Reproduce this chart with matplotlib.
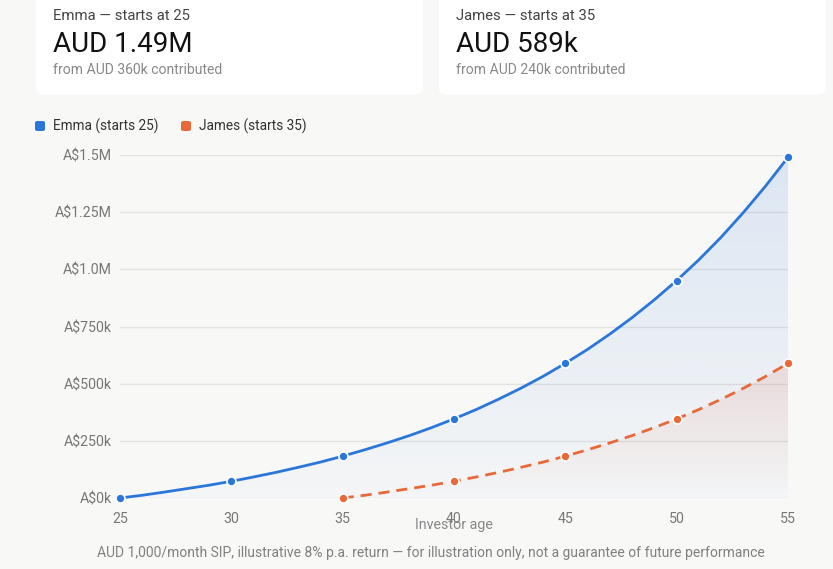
import matplotlib.pyplot as plt
import numpy as np
from matplotlib.patches import FancyBboxPatch

plt.rcParams['font.family'] = ['Roboto', 'DejaVu Sans']

# portfolio value (AUD thousands) at each age
emma_ages = list(range(25, 56))
emma_vals = [0, 12, 26, 41, 56, 73, 92, 112, 134, 157, 183, 211, 241, 273, 308,
             346, 387, 432, 480, 532, 589, 650, 717, 789, 867, 951, 1042, 1141,
             1249, 1365, 1490]
james_ages = list(range(35, 56))
james_vals = [0, 12, 26, 41, 56, 73, 92, 112, 134, 157, 183, 211, 241, 273, 308,
              346, 387, 432, 480, 532, 589]

y_ticks = [0, 250, 500, 750, 1000, 1250, 1500]
y_labels = ['A$0k', 'A$250k', 'A$500k', 'A$750k', 'A$1.0M', 'A$1.25M', 'A$1.5M']
x_ticks = [25, 30, 35, 40, 45, 50, 55]

cards = [
    ('Emma \u2014 starts at 25', 'AUD 1.49M', 'from AUD 360k contributed'),
    ('James \u2014 starts at 35', 'AUD 589k', 'from AUD 240k contributed'),
]

BLUE = '#2b77d9'
ORANGE = '#e9683a'
BG = '#f8f8f7'

W, H = 833, 569
fig = plt.figure(figsize=(W / 100, H / 100), dpi=100)
fig.patch.set_facecolor(BG)

# summary cards
for i, (head, big, sub) in enumerate(cards):
    x0 = [36, 439][i]
    card = FancyBboxPatch((x0 / W, 1 - 95 / H), 387 / W, 120 / H,
                          boxstyle='round,pad=0,rounding_size=0.012',
                          transform=fig.transFigure, facecolor='white',
                          edgecolor='none', zorder=0)
    fig.patches.append(card)
    tx = x0 + 17
    fig.text(tx / W, 1 - 16 / H, head, fontsize=10.7, color='#444444', va='center')
    fig.text(tx / W, 1 - 44 / H, big, fontsize=20, color='#111111', va='center')
    fig.text(tx / W, 1 - 70 / H, sub, fontsize=10.1, color='#888888', va='center')

# legend
for x0, label, col in [(35, 'Emma (starts 25)', BLUE), (181, 'James (starts 35)', ORANGE)]:
    sq = FancyBboxPatch((x0 / W, 1 - 131 / H), 10 / W, 10 / H,
                        boxstyle='round,pad=0,rounding_size=0.003',
                        transform=fig.transFigure, facecolor=col, edgecolor='none')
    fig.patches.append(sq)
    fig.text((x0 + 18) / W, 1 - 126 / H, label, fontsize=9.8, color='#333333',
             va='center')

ax = fig.add_axes([120 / W, 1 - 498 / H, 668 / W, 343 / H])
ax.set_facecolor(BG)


def gradient_fill(xs, ys, color, a_top, a_bot, top):
    poly = ax.fill_between(xs, ys, 0, facecolor='none', edgecolor='none')
    rgb = plt.matplotlib.colors.to_rgb(color)
    grad = np.zeros((256, 1, 4))
    grad[:, :, :3] = rgb
    grad[:, 0, 3] = np.linspace(a_top, a_bot, 256)
    im = ax.imshow(grad, extent=[xs[0], xs[-1], 0, top], aspect='auto',
                   origin='upper', zorder=1, interpolation='bilinear')
    im.set_clip_path(poly.get_paths()[0], ax.transData)


gradient_fill(emma_ages, emma_vals, BLUE, 0.14, 0.02, max(emma_vals))
gradient_fill(james_ages, james_vals, '#e2704d', 0.16, 0.0, max(james_vals))
ax.set_xlim(25, 55)
ax.set_ylim(0, 1500)

ax.plot(emma_ages, emma_vals, color=BLUE, lw=2, zorder=3, marker='o',
        markevery=5, ms=6.5, mec='white', mew=1.2, clip_on=False)
ax.plot(james_ages, james_vals, color=ORANGE, lw=2, ls=(0, (4, 2.5)), zorder=3,
        marker='o', markevery=5, ms=6.5, mec='white', mew=1.2, clip_on=False)

ax.set_yticks(y_ticks)
ax.set_yticklabels(y_labels)
ax.set_xticks(x_ticks)
ax.grid(axis='y', color='#e3e3e1', lw=1)
ax.set_axisbelow(True)
for s in ax.spines.values():
    s.set_visible(False)
ax.tick_params(length=0, labelsize=10.2, labelcolor='#777777')
ax.tick_params(axis='y', pad=6)
ax.tick_params(axis='x', pad=10)
ax.set_xlabel('Investor age', fontsize=10.3, color='#888888', labelpad=-6)

fig.text(431 / W, 1 - 553 / H,
         'AUD 1,000/month SIP, illustrative 8% p.a. return \u2014 for illustration only, '
         'not a guarantee of future performance',
         fontsize=10, color='#808080', ha='center', va='center')

fig.savefig('out.png', dpi=100, facecolor=BG)
